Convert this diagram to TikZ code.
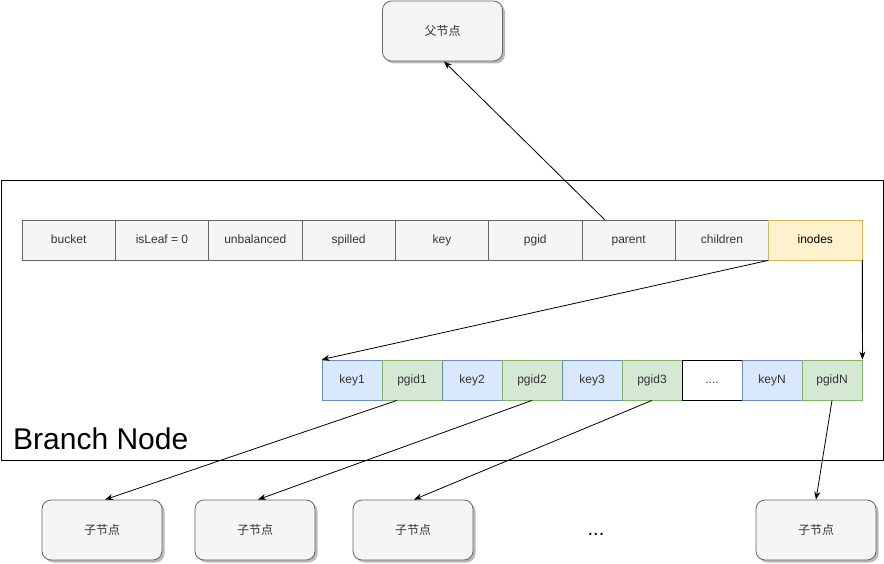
\documentclass[tikz,border=0pt]{standalone}
\usepackage{fontspec}
\setmainfont{Liberation Sans}
\newfontfamily\cjk{Noto Sans CJK SC}
\usepackage{xcolor}
\usetikzlibrary{arrows.meta,shadows}

\definecolor{cellfill}{HTML}{F5F5F5}
\definecolor{celldraw}{HTML}{666666}
\definecolor{txtgray}{HTML}{333333}
\definecolor{keyfill}{HTML}{DAE8FC}
\definecolor{keydraw}{HTML}{6C8EBF}
\definecolor{pgfill}{HTML}{D5E8D4}
\definecolor{pgdraw}{HTML}{82B366}
\definecolor{inofill}{HTML}{FFF2CC}
\definecolor{inodraw}{HTML}{D6B656}

\newcommand\gapdots{....}

\tikzset{
  cell/.style={draw=celldraw, fill=cellfill, line width=0.8pt, inner sep=0pt,
    minimum width=93.33pt, minimum height=40pt, text=txtgray,
    text height=9pt, text depth=2.5pt,
    font=\fontsize{12}{14}\selectfont},
  slot/.style={cell, minimum width=60pt},
  keyslot/.style={slot, draw=keydraw, fill=keyfill},
  pgslot/.style={slot, draw=pgdraw, fill=pgfill},
  dotslot/.style={slot, draw=black, fill=white},
  pagebox/.style={draw=celldraw, fill=cellfill, line width=0.8pt, rounded corners=9pt,
    minimum width=120pt, minimum height=60pt, text=txtgray,
    font=\cjk\fontsize{12}{14}\selectfont,
    drop shadow={shadow xshift=2.5pt, shadow yshift=-2.5pt, fill=black!45, opacity=0.6}},
  link/.style={-{Stealth[length=8pt,width=6pt]}, line width=0.8pt}
}

\begin{document}
\begin{tikzpicture}[x=1pt,y=-1pt]
    \useasboundingbox (0,0) rectangle (884,564);

    % Branch node frame
    \draw[line width=0.8pt] (1,180.5) rectangle (883.5,460);
    \node[anchor=base west, font=\fontsize{30}{33}\selectfont, inner sep=0pt] (title) at (13,449) {Branch Node};

    % parent page
    \node[pagebox] (par) at (442.5,31) {父节点};

    % header fields
    \foreach \lbl [count=\i] in {bucket, isLeaf = 0, unbalanced, spilled, key, pgid, parent, children} {
        \node[cell] (f\i) at ({22+93.33*(\i-0.5)},240) {\lbl};
    }
    \node[cell, draw=inodraw, fill=inofill, text=black] (f9) at ({22+93.33*8.5},240) {inodes};

    % inodes
    \foreach \lbl/\sty [count=\i] in {key1/keyslot, pgid1/pgslot, key2/keyslot, pgid2/pgslot,
        key3/keyslot, pgid3/pgslot, \gapdots/dotslot, keyN/keyslot, pgidN/pgslot} {
        \node[\sty] (s\i) at ({322+60*(\i-0.5)},380) {\lbl};
    }

    % child pages
    \node[pagebox] (c1) at (102,530) {子节点};
    \node[pagebox] (c2) at (255,530) {子节点};
    \node[pagebox] (c3) at (413,530) {子节点};
    \node[pagebox] (c4) at (816,530) {子节点};
    \node[font=\fontsize{20}{22}\selectfont] (more) at (596,534) {...};

    % links
    \draw[link] ([xshift=23pt]f7.north west) -- ([xshift=1.5pt]par.south);
    \draw[link] (f9.south west) -- (s1.north west);
    \draw[link] (f9.south east) -- (s9.north east);
    \draw[link] ([xshift=-15pt]s2.south) -- ([xshift=3pt]c1.north);
    \draw[link] (s4.south) -- ([xshift=3pt]c2.north);
    \draw[link] (s6.south) -- ([xshift=1pt]c3.north);
    \draw[link] (s9.south) -- (c4.north);
\end{tikzpicture}
\end{document}
